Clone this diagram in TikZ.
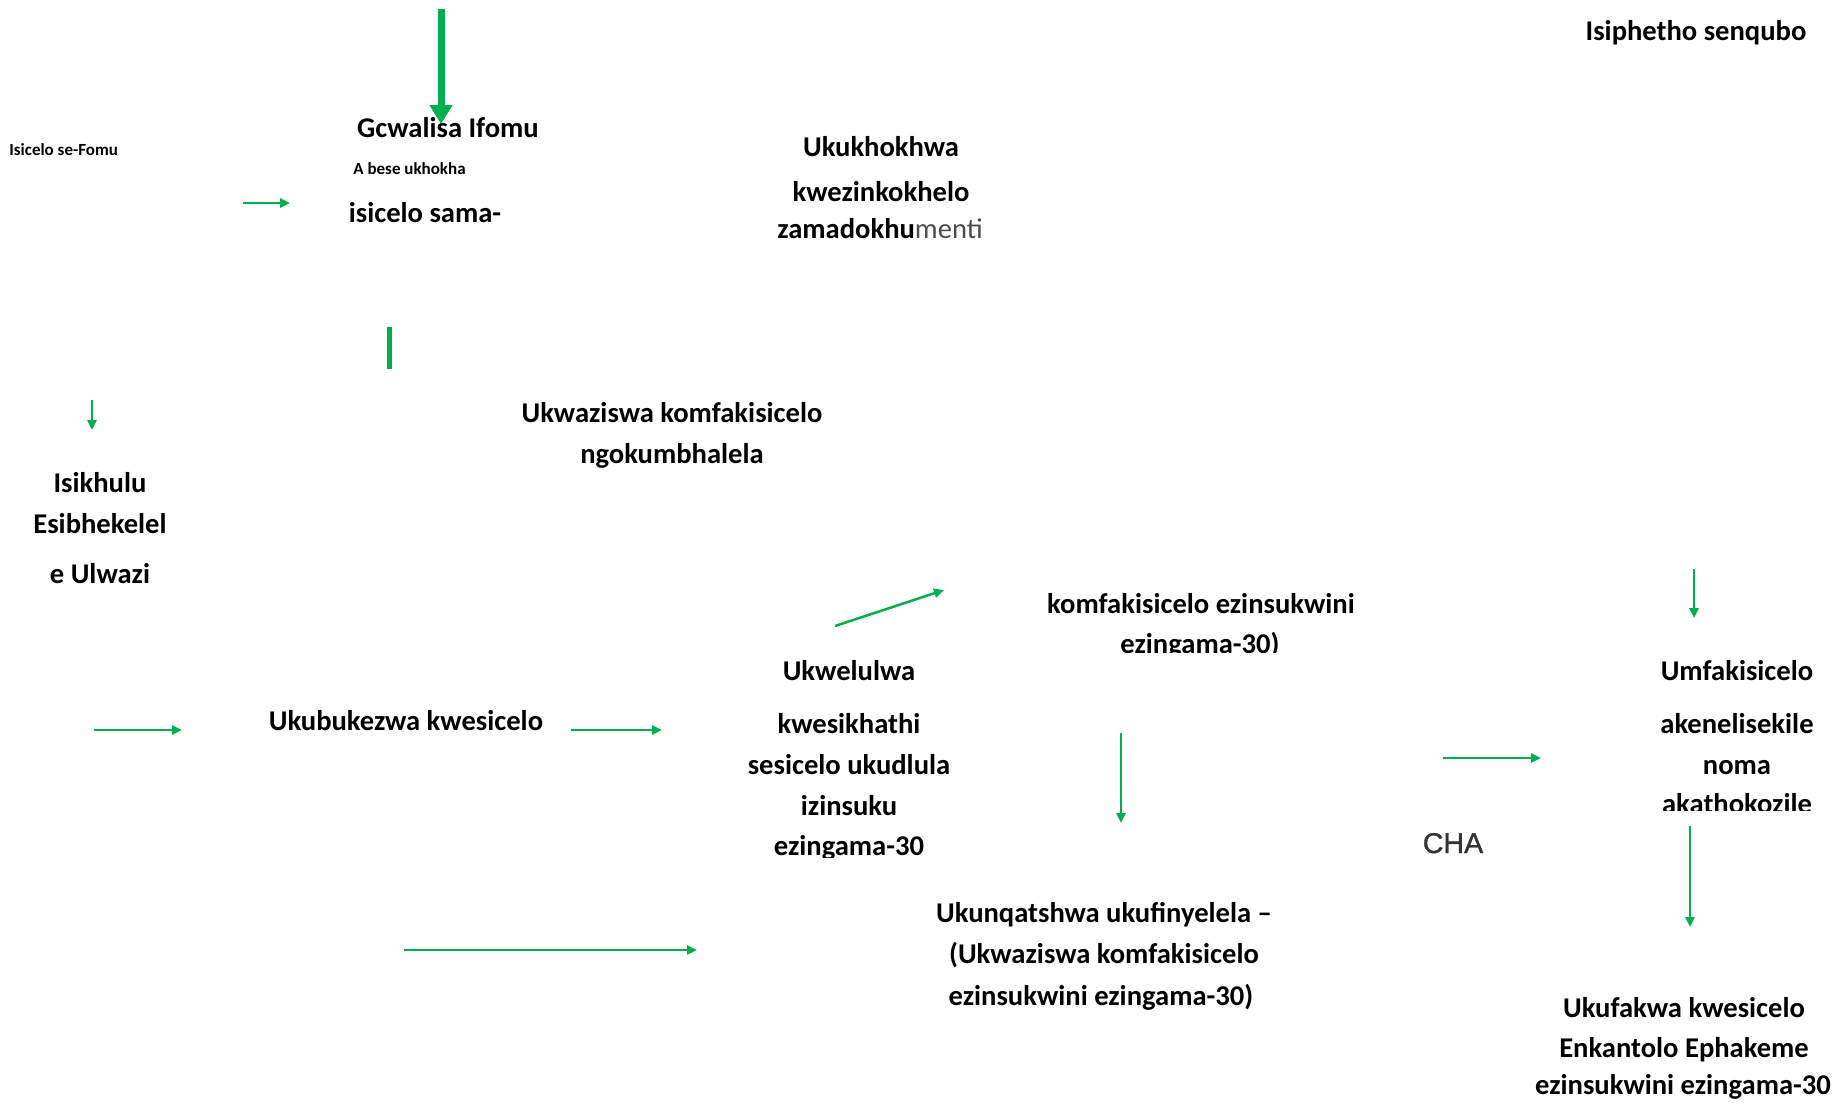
\documentclass[tikz,border=0pt]{standalone}
\usepackage{fontspec}
\setmainfont{Carlito}
\newfontfamily\chafont[FakeBold=1.2]{Liberation Sans}
\usetikzlibrary{arrows.meta, positioning}
\definecolor{ppgreen}{RGB}{0,176,80}
\tikzset{
  lbl/.style={font=\bfseries\fontsize{14.3}{17}\selectfont, inner sep=0pt, anchor=base},
  note/.style={font=\bfseries\fontsize{8.5}{10}\selectfont, inner sep=0pt, anchor=base west},
  arr/.style={draw=ppgreen, line width=1.25pt, -{Triangle[length=5pt,width=4.5pt]}},
}

\begin{document}
\begin{tikzpicture}[x=0.5pt, y=-0.5pt]
\useasboundingbox (0,0) rectangle (1843,1105);

% top row
\node[note] (fomu) at (9,155) {Isicelo se-Fomu};
\node[lbl] (gcw) at (448,137) {Gcwalisa Ifomu};
\node[note] (bese) at (353,174) {A bese ukhokha};
\node[lbl] (sama) at (425,222) {isicelo sama-};
\node[lbl] (khokh1) at (881,156) {Ukukhokhwa};
\node[lbl] (khokh2) at (881,201) {kwezinkokhelo};
\node[lbl] (khokh3) at (880,238) {zamadokhu{\mdseries\color{black!70}menti}};
\node[lbl] (senqubo) at (1696,40) {Isiphetho senqubo};

% middle
\node[lbl] (azi1) at (672,422) {Ukwaziswa komfakisicelo};
\node[lbl] (azi2) at (672,463) {ngokumbhalela};
\node[lbl] (sikh1) at (100,492) {Isikhulu};
\node[lbl] (sikh2) at (100,533) {Esibhekelel};
\node[lbl] (sikh3) at (100,583) {e Ulwazi};
\node[lbl] (bukez) at (406,730) {Ukubukezwa kwesicelo};
\node[lbl] (kom1) at (1201,613) {komfakisicelo ezinsukwini};
\begin{scope}
\clip (1000,620) rectangle (1400,652);
\node[lbl] (kom2) at (1200,653) {ezingama-30)};
\end{scope}
\node[lbl] (elul1) at (849,680) {Ukwelulwa};
\node[lbl] (elul2) at (849,733) {kwesikhathi};
\node[lbl] (elul3) at (849,774) {sesicelo ukudlula};
\node[lbl] (elul4) at (849,815) {izinsuku};
\begin{scope}
\clip (700,820) rectangle (1000,857);
\node[lbl] (elul5) at (849,855) {ezingama-30};
\end{scope}
\node[lbl, font=\chafont\fontsize{14.3}{17}\selectfont, text=black!80] (cha) at (1453,853) {CHA};

% right column
\node[lbl] (umf1) at (1737,680) {Umfakisicelo};
\node[lbl] (umf2) at (1737,733) {akenelisekile};
\node[lbl] (umf3) at (1737,774) {noma};
\begin{scope}
\clip (1600,780) rectangle (1843,810);
\node[lbl] (umf4) at (1737,813) {akathokozile};
\end{scope}
\node[lbl] (nqa1) at (1104,922) {Ukunqatshwa ukufinyelela --};
\node[lbl] (nqa2) at (1104,963) {(Ukwaziswa komfakisicelo};
\node[lbl] (nqa3) at (1101,1005) {ezinsukwini ezingama-30)};
\node[lbl] (fak1) at (1684,1017) {Ukufakwa kwesicelo};
\node[lbl] (fak2) at (1684,1057) {Enkantolo Ephakeme};
\node[lbl] (fak3) at (1683,1094) {ezinsukwini ezingama-30};

% arrow ends
\coordinate (big1) at (441,9);    \coordinate (big2) at (441,124);
\coordinate (bar1) at (389,327);  \coordinate (bar2) at (389,369);
\coordinate (a1s) at (243,203);   \coordinate (a1e) at (290,203);
\coordinate (a2s) at (92,400);    \coordinate (a2e) at (92,430);
\coordinate (a3s) at (94,730);    \coordinate (a3e) at (182,730);
\coordinate (a4s) at (571,730);   \coordinate (a4e) at (662,730);
\coordinate (a5s) at (835,626);   \coordinate (a5e) at (944,590);
\coordinate (a6s) at (1121,733);  \coordinate (a6e) at (1121,823);
\coordinate (a7s) at (1443,758);  \coordinate (a7e) at (1541,758);
\coordinate (a8s) at (1694,569);  \coordinate (a8e) at (1694,618);
\coordinate (a9s) at (1690,826);  \coordinate (a9e) at (1690,927);
\coordinate (a10s) at (404,950);  \coordinate (a10e) at (697,950);

\draw[draw=ppgreen, line width=3.5pt, -{Triangle[length=9.5pt,width=11pt]}] (big1) -- (big2);
\draw[draw=ppgreen, line width=2.5pt] (bar1) -- (bar2);
\draw[arr] (a1s) -- (a1e);
\draw[arr] (a2s) -- (a2e);
\draw[arr] (a3s) -- (a3e);
\draw[arr] (a4s) -- (a4e);
\draw[arr] (a5s) -- (a5e);
\draw[arr] (a6s) -- (a6e);
\draw[arr] (a7s) -- (a7e);
\draw[arr] (a8s) -- (a8e);
\draw[arr] (a9s) -- (a9e);
\draw[arr] (a10s) -- (a10e);
\end{tikzpicture}
\end{document}
